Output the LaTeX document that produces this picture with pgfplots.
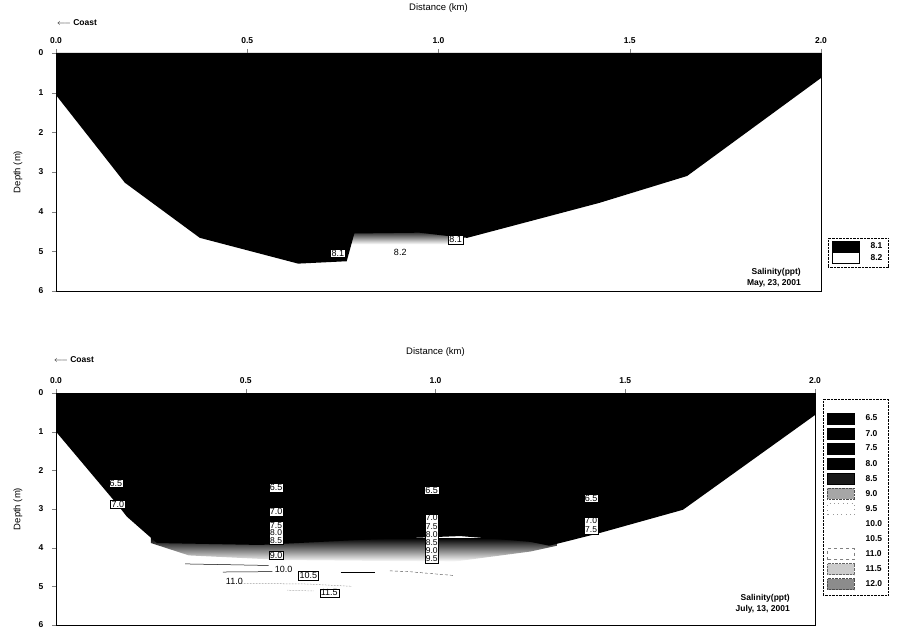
\documentclass[border=0pt]{standalone}
\usepackage{fontspec}
\setmainfont{Liberation Sans}
\usepackage{pgfplots}
\pgfplotsset{compat=1.18}
\newcommand{\lgb}[1]{\addlegendimage{legend image code/.code={\draw[#1] (0pt,-5.5pt) rectangle (27pt,5.5pt);}}}
\tikzset{
  lab/.style={fill=white, draw=black, line width=0.3pt, inner sep=1pt, font=\fontsize{9}{9}\selectfont},
  labn/.style={inner sep=0.5pt, font=\fontsize{9}{9}\selectfont},
}
\pgfplotsset{
  sect/.style={
    scale only axis, anchor=south west, clip=false,
    xmin=0, xmax=2, ymin=0, ymax=6, y dir=reverse,
    axis on top,
    xtick={0,0.5,1,1.5,2}, xticklabels={0.0,0.5,1.0,1.5,2.0},
    ytick={0,1,2,3,4,5,6},
    xtick pos=upper, xticklabel pos=upper, ytick pos=left,
    tick align=outside, major tick length=4pt,
    tick label style={font=\fontsize{8.5}{9}\selectfont\bfseries},
    yticklabel style={xshift=-5pt},
    xticklabel style={yshift=2pt},
    /pgf/number format/assume math mode=true,
    axis line style={line width=0.6pt},
    legend cell align=left,
    legend style={draw=black, densely dotted, fill=white, font=\fontsize{8.5}{9}\selectfont\bfseries,
      anchor=south west, inner xsep=4pt, /tikz/every odd column/.append style={column sep=9pt}},
  },
}
\begin{document}
\begin{tikzpicture}
\path[use as bounding box] (0pt,0pt) rectangle (905pt,628pt);
% ---------------- top panel ----------------
\begin{axis}[sect, at={(56pt,337pt)}, width=765pt, height=238pt,
  legend style={at={(1,0)}, xshift=7pt, yshift=24pt, inner ysep=3pt, row sep=0pt}]
\addplot[draw=none, top color=black, bottom color=white, forget plot]
  coordinates {(0.74,4.45) (1.06,4.45) (1.06,4.82) (0.74,4.82)} --cycle;
\addplot[fill=black, draw=none, forget plot] coordinates {
 (0,0) (2,0) (2,0.63) (1.65,3.1) (1.42,3.78) (1.075,4.66) (1.03,4.62) (0.95,4.53)
 (0.78,4.55) (0.76,5.25) (0.633,5.31) (0.376,4.66) (0.18,3.27) (0,1.06)} --cycle;
\lgb{fill=black, draw=black, solid}
\addlegendentry{8.1}
\lgb{fill=white, draw=black, solid, line width=0.3pt}
\addlegendentry{8.2}
\node[lab] at (axis cs:0.737,5.04) {8.1};
\node[labn] at (axis cs:0.90,5.02) {8.2};
\node[lab] at (axis cs:1.045,4.71) {8.1};
\node[font=\fontsize{8.5}{10.5}\selectfont\bfseries, align=right, anchor=south east, inner sep=0pt]
  at ([xshift=-20pt,yshift=4pt]axis description cs:1,0) {Salinity(ppt)\\May, 23, 2001};
\node[font=\fontsize{9.5}{10}\selectfont] at ([yshift=45pt]axis description cs:0.5,1) {Distance (km)};
\node[font=\fontsize{8.5}{9}\selectfont\bfseries, anchor=west, inner sep=0pt] at ([xshift=1pt,yshift=30pt]axis description cs:0,1) {$\longleftarrow$ Coast};
\node[font=\fontsize{9.5}{10}\selectfont, rotate=90] at ([xshift=-38pt]axis description cs:0,0.5) {Depth (m)};
\end{axis}
% ---------------- bottom panel ----------------
\begin{axis}[sect, at={(56pt,3pt)}, width=759pt, height=232pt,
  legend style={at={(1,0)}, xshift=8pt, yshift=30pt, inner ysep=5pt, row sep=3.6pt}]
\addplot[draw=none, top color=black, bottom color=white, forget plot] coordinates {
 (0.25,3.75) (1.32,3.75) (1.32,3.95) (1.25,4.1) (1.05,4.36) (0.6,4.32) (0.35,4.2) (0.25,3.88)} --cycle;
\addplot[fill=black, draw=none, forget plot] coordinates {
 (0,0) (2,0) (2,0.57) (1.652,3.02) (1.433,3.62) (1.30,3.95) (1.25,3.85) (1.065,3.7)
 (0.80,3.8) (0.538,3.93) (0.266,3.88) (0.187,3.2) (0.163,2.9) (0,1.0)} --cycle;
% faint near-bottom contour lines
\addplot[black, line width=0.5pt, forget plot] coordinates {(0.34,4.42) (0.56,4.46)};
\addplot[black, line width=0.5pt, forget plot] coordinates {(0.44,4.63) (0.57,4.62)};
\addplot[black, line width=0.5pt, forget plot] coordinates {(0.75,4.64) (0.84,4.64)};
\addplot[black!70, densely dashed, line width=0.4pt, forget plot] coordinates {(0.88,4.60) (0.93,4.62) (1.0,4.68) (1.05,4.72)};
\addplot[black!60, densely dotted, line width=0.5pt, forget plot] coordinates {(0.48,4.92) (0.66,4.94) (0.78,5.0)};
\addplot[black!50, densely dotted, line width=0.5pt, forget plot] coordinates {(0.61,5.1) (0.68,5.12)};
\addlegendimage{empty legend}\addlegendentry{}
\lgb{fill=black, draw=black, solid}\addlegendentry{6.5}
\lgb{fill=black, draw=black, solid}\addlegendentry{7.0}
\lgb{fill=black, draw=black, solid}\addlegendentry{7.5}
\lgb{fill=black, draw=black, solid}\addlegendentry{8.0}
\lgb{fill=black!90, draw=black, solid}\addlegendentry{8.5}
\lgb{fill=black!35, draw=black!70, densely dotted}\addlegendentry{9.0}
\lgb{fill=white, draw=black!40, loosely dotted}\addlegendentry{9.5}
\lgb{fill=white, draw=none}\addlegendentry{10.0}
\lgb{fill=white, draw=none}\addlegendentry{10.5}
\lgb{fill=white, draw=black!50, dashed, line width=0.3pt}\addlegendentry{11.0}
\lgb{fill=black!20, draw=black!60, densely dotted}\addlegendentry{11.5}
\lgb{fill=black!45, draw=black!70, densely dotted}\addlegendentry{12.0}
% contour labels
\node[lab] at (axis cs:0.158,2.33) {6.5};
\node[lab] at (axis cs:0.163,2.88) {7.0};
\node[lab] at (axis cs:0.58,2.45) {6.5};
\node[lab] at (axis cs:0.58,3.07) {7.0};
\node[lab, align=center, font=\fontsize{8.5}{7.5}\selectfont] at (axis cs:0.58,3.62) {7.5\\8.0\\8.5};
\node[lab] at (axis cs:0.58,4.2) {9.0};
\node[labn, fill=white] at (axis cs:0.60,4.55) {10.0};
\node[lab] at (axis cs:0.665,4.72) {10.5};
\node[labn] at (axis cs:0.47,4.86) {11.0};
\node[lab] at (axis cs:0.72,5.17) {11.5};
\node[lab] at (axis cs:0.99,2.52) {6.5};
\node[lab, align=center, font=\fontsize{8.5}{8.2}\selectfont] at (axis cs:0.99,3.76) {7.0\\7.5\\8.0\\8.5\\9.0\\9.5};
\node[lab] at (axis cs:1.41,2.72) {6.5};
\node[lab, align=center, font=\fontsize{8.5}{9}\selectfont] at (axis cs:1.41,3.42) {7.0\\7.5};
\node[font=\fontsize{8.5}{10.5}\selectfont\bfseries, align=right, anchor=south east, inner sep=0pt]
  at ([xshift=-25pt,yshift=12pt]axis description cs:1,0) {Salinity(ppt)\\July, 13, 2001};
\node[font=\fontsize{9.5}{10}\selectfont] at ([yshift=41pt]axis description cs:0.5,1) {Distance (km)};
\node[font=\fontsize{8.5}{9}\selectfont\bfseries, anchor=west, inner sep=0pt] at ([xshift=-2pt,yshift=33pt]axis description cs:0,1) {$\longleftarrow$ Coast};
\node[font=\fontsize{9.5}{10}\selectfont, rotate=90] at ([xshift=-38pt]axis description cs:0,0.5) {Depth (m)};
\end{axis}
\end{tikzpicture}
\end{document}
